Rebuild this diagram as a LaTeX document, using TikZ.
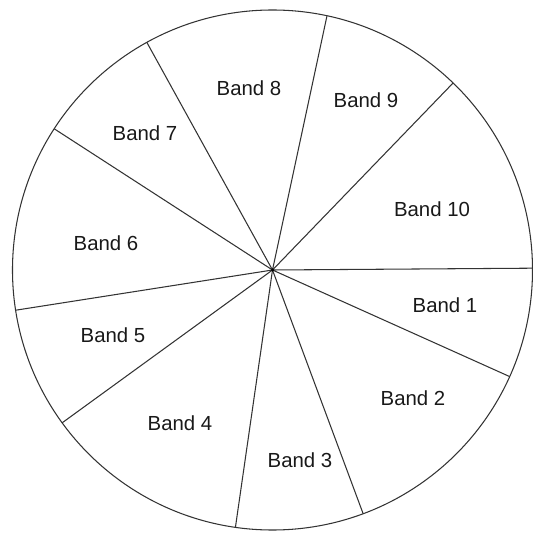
\documentclass[tikz,border=0pt]{standalone}
\usepackage{fontspec}
\setmainfont{Liberation Sans}
\usepackage{tikz}

\begin{document}
\begin{tikzpicture}[
		bandline/.style={line width=0.6pt, draw=black!80},
		bandlabel/.style={font=\fontsize{11.6}{14}\selectfont, text=black!90, inner sep=0pt}
	]
			% Frame and outline:
			\useasboundingbox (-5.45, -5.26) rectangle (5.19, 5.40);
			\coordinate (c) at (0, 0);
			\draw[bandline] (c) circle (5.2);
			% Band boundaries:
			\foreach \a [count=\i] in {0.4, 46, 77.9, 118.9, 147.1, 188.9, 216, 261.8, 290.4, 335.8}
				\coordinate (b\i) at (\a:5.2);
			\foreach \i in {1, ..., 10}
				\draw[bandline] (c) -- (b\i);
			\fill[black] (c) circle (0.035);
			% Labels:
			\node[bandlabel] (band1) at (3.45, -0.70){Band 1};
			\node[bandlabel] (band2) at (2.81, -2.56){Band 2};
			\node[bandlabel] (band3) at (0.55, -3.80){Band 3};
			\node[bandlabel] (band4) at (-1.85, -3.06){Band 4};
			\node[bandlabel] (band5) at (-3.19, -1.30){Band 5};
			\node[bandlabel] (band6) at (-3.33, 0.54){Band 6};
			\node[bandlabel] (band7) at (-2.55, 2.74){Band 7};
			\node[bandlabel] (band8) at (-0.47, 3.64){Band 8};
			\node[bandlabel] (band9) at (1.87, 3.40){Band 9};
			\node[bandlabel] (band10) at (3.19, 1.22){Band 10};
		\end{tikzpicture}
\end{document}
